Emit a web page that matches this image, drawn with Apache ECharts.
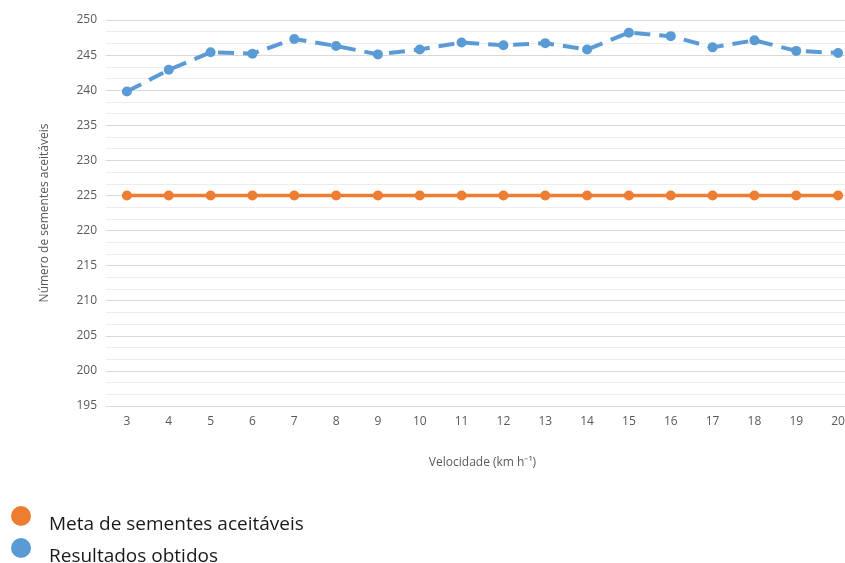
<!DOCTYPE html>
<html>
<head>
<meta charset="utf-8">
<script src="https://cdn.jsdelivr.net/npm/echarts@6/dist/echarts.min.js"></script>
<style>html,body{margin:0;padding:0;background:#fff}#c{width:845px;height:563px}</style>
</head>
<body>
<div id="c"></div>
<script>
const categories = ['3','4','5','6','7','8','9','10','11','12','13','14','15','16','17','18','19','20'];
const meta = [225,225,225,225,225,225,225,225,225,225,225,225,225,225,225,225,225,225];
const resultados = [239.8,242.9,245.4,245.2,247.3,246.3,245.1,245.8,246.8,246.4,246.7,245.8,248.2,247.7,246.1,247.1,245.6,245.3];
const seriesNames = ['Meta de sementes aceitáveis','Resultados obtidos'];

const legendBase = {
  orient: 'vertical',
  left: 11,
  padding: 0,
  icon: 'circle',
  itemWidth: 20, itemHeight: 22,
  formatter: '{t|{name}}',
  textStyle: {
    padding: [0, 0, 0, 13],
    rich: { t: { color: '#1a1a1a', fontSize: 19, fontFamily: 'Open Sans', padding: [18, 0, 0, 0] } }
  }
};

const chart = echarts.init(document.getElementById('c'));
chart.setOption({
  animation: false,
  textStyle: { fontFamily: 'Open Sans' },
  grid: { left: 106, top: 20, width: 753, height: 386, outerBoundsMode: 'none', containLabel: false },
  xAxis: {
    type: 'category',
    data: categories,
    boundaryGap: true,
    name: 'Velocidade (km h⁻¹)',
    nameLocation: 'middle',
    nameGap: 51,
    nameTextStyle: { color: '#595959', fontSize: 12 },
    axisLine: { lineStyle: { color: '#d9d9d9' } },
    axisTick: { show: false },
    axisLabel: { color: '#595959', fontSize: 12, margin: 10 }
  },
  yAxis: {
    type: 'value',
    min: 195, max: 250, interval: 5,
    name: 'Número de sementes aceitáveis',
    nameLocation: 'middle',
    nameGap: 55,
    nameTextStyle: { color: '#595959', fontSize: 12 },
    axisLine: { show: false },
    axisTick: { show: false },
    axisLabel: { color: '#595959', fontSize: 12, margin: 9 },
    splitLine: { lineStyle: { color: '#d9d9d9', width: 1 } },
    minorTick: { show: false, splitNumber: 3 },
    minorSplitLine: { show: true, lineStyle: { color: '#ededed', width: 1 } }
  },
  legend: [
    Object.assign({}, legendBase, { top: 506, data: [seriesNames[0]] }),
    Object.assign({}, legendBase, { top: 538, data: [seriesNames[1]] })
  ],
  series: [
    {
      name: seriesNames[0],
      type: 'line',
      data: meta,
      symbol: 'circle',
      symbolSize: 10,
      itemStyle: { color: '#ED7D31' },
      lineStyle: { color: '#ED7D31', width: 3.5 }
    },
    {
      name: seriesNames[1],
      type: 'line',
      data: resultados,
      symbol: 'circle',
      symbolSize: 10,
      itemStyle: { color: '#5B9BD5' },
      lineStyle: { color: '#5B9BD5', width: 4, type: [16, 9] }
    }
  ]
});
</script>
</body>
</html>
